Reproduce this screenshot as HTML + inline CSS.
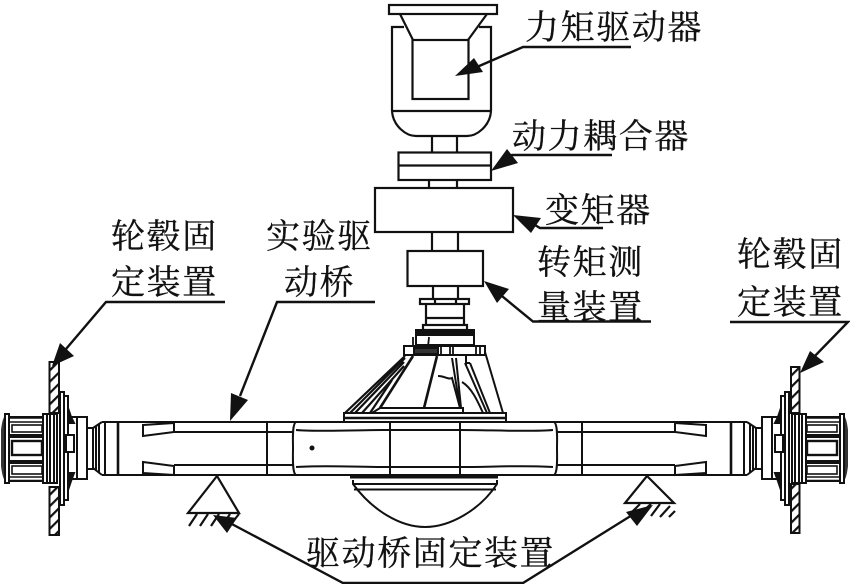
<!DOCTYPE html>
<html><head><meta charset="utf-8"><style>
html,body{margin:0;padding:0;background:#fff}
svg{display:block}
text{font-family:"Liberation Serif","Noto Serif CJK SC",serif;font-size:34px;fill:#111;stroke:#111;stroke-width:.3px;letter-spacing:1.6px}
</style></head><body>
<svg width="850" height="584" viewBox="0 0 850 584" xmlns="http://www.w3.org/2000/svg">
<defs>
<pattern id="h" width="8" height="8" patternUnits="userSpaceOnUse" patternTransform="rotate(-45)"><rect width="8" height="8" fill="#fff"/><rect width="8" height="2.2" fill="#111"/></pattern>
<g id="side" fill="none" stroke="#111" stroke-width="2">
<path d="M1 430C2 422 3 418 5 416V481C3 478 2 474 1 466Z" fill="#111" stroke="none" opacity=".85"/>
<rect x="5" y="414" width="4" height="69" fill="#fff"/>
<rect x="9" y="417" width="34" height="64" fill="#fff"/>
<path d="M9 418H43M9 422H43M9 477H43M9 480.500H43" stroke-width="1.6"/>
<path d="M9 436H43M9 462H43" stroke-width="4"/>
<rect x="12" y="425" width="30" height="7" fill="#fff" stroke-width="1.6"/>
<rect x="12" y="441" width="30" height="14" fill="#fff" stroke-width="2.4"/>
<rect x="12" y="466" width="30" height="8" fill="#fff" stroke-width="1.6"/>
<rect x="43" y="414" width="14" height="69" fill="#fff"/><path d="M47 414V483M50 414V483M54 414V483"/>
<rect x="60" y="392" width="4" height="113" fill="#fff"/><rect x="64" y="396" width="4" height="104" fill="#fff"/>
<rect x="68" y="417" width="9" height="62" fill="#fff"/><rect x="77" y="417" width="10" height="62" fill="#fff"/>
<rect x="66" y="435" width="8" height="17" fill="#fff"/>
<path d="M68 408L71 417L74 423H68M68 490L71 481L74 473H68" fill="#111"/>
<rect x="87" y="428" width="6" height="41" fill="#fff"/><path d="M93 428L102 422M93 468L102 475M96 426V470M99 424V473"/>
<path d="M102 422H293M102 475H293"/>
<path d="M105 422V475"/>
<path d="M118 422V475" stroke-width="2.6"/>
<path d="M174 432H293M174 465H293M267 422V475M174 422V432M174 465V475"/>
<path d="M143 425L174 423V432L143 436ZM143 462L174 466V475L143 473Z" fill="#fff"/>
</g>
</defs>

<!-- torque driver -->
<g fill="none" stroke="#111" stroke-width="2.2">
<rect x="389" y="5" width="108" height="9" fill="#fff"/>
<path d="M400 14L413 40M487 14L468 40"/>
<rect x="412.500" y="40" width="56" height="59"/>
<path d="M404 27H392V111M479 27H491V111M392 111H491"/>
<path d="M392 111C393 126 406 136 416 136H467C477 136 490 126 491 111"/>
<path d="M432 136V152M457 136V152"/>
<rect x="398.500" y="152.500" width="92.500" height="27.500"/><path d="M398 165.500H491"/>
<path d="M429 180V188M457 180V188"/>
<rect x="375" y="188" width="138" height="44"/>
<path d="M432 232V251M458 232V251"/>
<rect x="407.500" y="251" width="75.500" height="35"/>
<path d="M433 286V298M458 286V298"/>
<rect x="420" y="299" width="49" height="5"/><path d="M435 299V304M456 299V304"/>
<path d="M426 304V325M464 304V325M427 318H463"/>
<rect x="423" y="325" width="44" height="5"/>
</g>

<!-- gearbox -->
<g fill="none" stroke="#111" stroke-width="2">
<rect x="416" y="330" width="58" height="5" fill="#111"/>
<rect x="416" y="335" width="58" height="10"/>
<rect x="404" y="346" width="81" height="9"/>
<rect x="414" y="348" width="24" height="6" fill="#333"/>
<path d="M413 337V346M429 337L428 347M441 346V355M450 346V355M453 346V355M476 346V355M480 346V355" stroke-width="1.8"/>
<path d="M345 413L405 356M350 413L405 358M355 413L404 362M362 413L404 366M370 413L392 380" stroke-width="2.2"/>
<path d="M380 408L413 356M424 408L437 356" stroke-width="2.6"/>
<path d="M438 376C445 376 448 380 452 378L460 408" />
<path d="M452 358L460 408M456 358L461 408"/>
<path d="M465 363L487 413M470 363L490 413M465 363H470" stroke-width="2"/>
<path d="M462 382C472 388 478 402 483 413M485 352L503 413M466 355V366" />
<path d="M372 413L380 408H463V413"/>
<rect x="344" y="413" width="162" height="9" fill="#fff"/>
<path d="M345 418H505" stroke-width="2.4"/>
</g>

<!-- axle centre & dome -->
<g fill="none" stroke="#111" stroke-width="2">
<use href="#side"/>
<use href="#side" transform="translate(849,0) scale(-1,1)"/>
<path d="M293 422H557M293 475H557"/>
<path d="M296 430C320 432 360 430 390 430H460C490 430 530 432 553 430M296 467C320 465 360 467 390 467H460C490 467 530 465 553 467"/>
<path d="M390 422V475M460 422V475"/>
<path d="M296 422C292 424 293 440 293 448C293 456 292 473 296 475M554 422C558 424 557 440 557 448C557 456 558 473 554 475" fill="#fff"/>
<path d="M350 476.500H498" stroke-width="4"/>
<path d="M353 480V484C372 510 400 527 425 527C450 527 480 510 497 484V480M354 489.500H496M354 484H496"/>
<circle cx="312" cy="448" r="2.500" fill="#111" stroke="none"/>
</g>

<!-- plates -->
<g stroke="#111" stroke-width="2" fill="url(#h)">
<rect x="49.500" y="362" width="9.500" height="51"/>
<rect x="49.500" y="487" width="9.500" height="48"/>
<rect x="791" y="367" width="8.500" height="46"/>
<rect x="791" y="484" width="8.500" height="49"/>
</g>

<!-- supports -->
<g fill="none" stroke="#111" stroke-width="2.2">
<path d="M217 476L188 513H239Z" fill="#fff"/>
<path d="M197 514L189 526M208 514L200 526M219 514L211 526M230 514L222 526M239 514L231 524"/>
<path d="M647 476L625 503H674Z" fill="#fff"/>
<path d="M640 504L630 514M651 504L640 514M660 504L651 516M670 506L660 517M675 511L669 517"/>
</g>

<!-- leaders -->
<g fill="none" stroke="#111" stroke-width="2.4">
<path d="M631 47H523L470 70"/>
<path d="M612 155H512L503 159"/>
<path d="M603 228H540L530 222"/>
<path d="M651 321.500H533L497 292"/>
<path d="M225 302H106L66 349"/>
<path d="M375 302H277L240 396"/>
<path d="M730 322H848L811 360"/>
<path d="M228 522L343 583H523L637 512"/>
</g>
<g fill="#111">
<path d="M455 76L474 58L483 72Z"/>
<path d="M491 171L507 149L518 163Z"/>
<path d="M513 215L541 218L531 233Z"/>
<path d="M484 281L509 289L497 303Z"/>
<path d="M52 366L60 343L74 356Z"/>
<path d="M230 421L231 393L248 400Z"/>
<path d="M800 373L810 351L824 362Z"/>
<path d="M213 515L237 518L227 533Z"/>
<path d="M653 505L637 526L626 512Z"/>
</g>

<!-- labels -->
<text x="525" y="39">力矩驱动器</text>
<text x="512" y="148">动力耦合器</text>
<text x="545" y="222">变矩器</text>
<text x="537" y="274">转矩测</text>
<text x="537" y="319">量装置</text>
<text x="111" y="248">轮毂固</text>
<text x="111" y="294">定装置</text>
<text x="266" y="248">实验驱</text>
<text x="284" y="294">动桥</text>
<text x="737" y="266">轮毂固</text>
<text x="737" y="314">定装置</text>
<text x="306" y="565">驱动桥固定装置</text>
</svg>
</body></html>
